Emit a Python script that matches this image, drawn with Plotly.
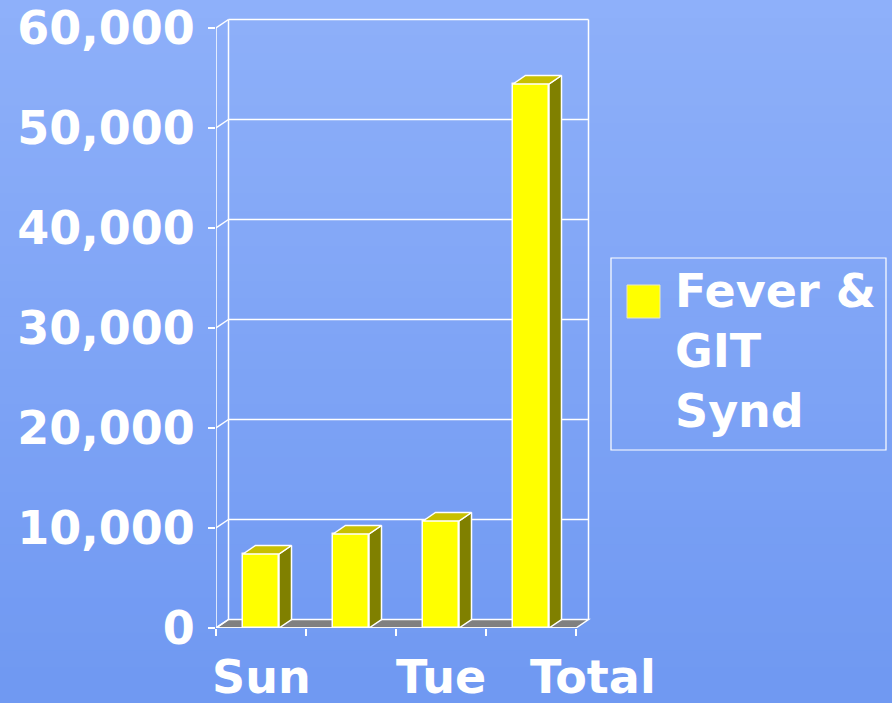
import plotly.graph_objects as go

# data
categories = ["Sun", "Mon", "Tue", "Total"]
values = [7400, 9400, 10700, 54400]
series_name = "Fever &<br>GIT<br>Synd"
shown_labels = ["Sun", "Tue", "Total"]
y_ticks = [0, 10000, 20000, 30000, 40000, 50000, 60000]

W, H = 892, 703
L, R, T, B = 216, 300, 18, 75
pw = W - L - R
ph = H - T - B
cat_px = 90.0
x_lo = -0.5
x_hi = x_lo + pw / cat_px
y_hi = 61000
dx = 12.5 / cat_px           # depth of the 3d box, in axis units
dy = 8.5 * y_hi / ph
bw = 0.4
n = len(categories)
xs = list(range(n))

def px(p):
    return (p - L) / pw

def py(p):
    return (H - B - p) / ph

white = "white"
fnt = "DejaVu Sans"

fig = go.Figure()

fig.add_trace(go.Bar(x=xs, y=values, width=bw, name="Fever & GIT Synd",
                     marker=dict(color="#ffff00", line=dict(color=white, width=1.5)),
                     showlegend=False))

# side and top faces of each bar
for i, v in zip(xs, values):
    xr = i + bw / 2
    xl = i - bw / 2
    fig.add_trace(go.Scatter(x=[xr, xr + dx, xr + dx, xr, xr], y=[0, dy, v + dy, v, 0],
                             mode="lines", fill="toself", fillcolor="#808000",
                             line=dict(color=white, width=1.5), showlegend=False,
                             hoverinfo="skip"))
    fig.add_trace(go.Scatter(x=[xl, xr, xr + dx, xl + dx, xl], y=[v, v, v + dy, v + dy, v],
                             mode="lines", fill="toself", fillcolor="#c8c000",
                             line=dict(color=white, width=1.5), showlegend=False,
                             hoverinfo="skip"))

shapes = []

# background gradient bands
nb = 40
top_c = (142, 176, 250)
bot_c = (112, 153, 242)
for k in range(nb):
    f = k / (nb - 1)
    c = tuple(int(top_c[j] + (bot_c[j] - top_c[j]) * f) for j in range(3))
    y0 = H * k / nb if k > 0 else -30
    y1 = H * (k + 1) / nb + 1 if k < nb - 1 else H + 30
    shapes.append(dict(type="rect", xref="paper", yref="paper",
                       x0=px(-30), x1=px(W + 30), y0=py(y0), y1=py(y1),
                       fillcolor="rgb(%d,%d,%d)" % c, line=dict(width=0), layer="below"))

x_end = x_lo + n
# floor
shapes.append(dict(type="path", layer="below",
                   path="M %f,0 L %f,0 L %f,%f L %f,%f Z" % (x_lo, x_end, x_end + dx, dy, x_lo + dx, dy),
                   fillcolor="#808080", line=dict(color=white, width=1.5)))
# back wall grid and left wall diagonals
for t in y_ticks:
    if t > 0:
        shapes.append(dict(type="line", x0=x_lo + dx, x1=x_end + dx, y0=t + dy, y1=t + dy,
                           line=dict(color=white, width=1.5), layer="below"))
    shapes.append(dict(type="line", x0=x_lo, x1=x_lo + dx, y0=t, y1=t + dy,
                       line=dict(color=white, width=1.5), layer="below"))
shapes.append(dict(type="line", x0=x_lo + dx, x1=x_lo + dx, y0=dy, y1=y_ticks[-1] + dy,
                   line=dict(color=white, width=1.5), layer="below"))
shapes.append(dict(type="line", x0=x_end + dx, x1=x_end + dx, y0=dy, y1=y_ticks[-1] + dy,
                   line=dict(color=white, width=1.5), layer="below"))
# front axis lines
shapes.append(dict(type="line", x0=x_lo, x1=x_lo, y0=0, y1=y_ticks[-1],
                   line=dict(color=white, width=1.5)))
shapes.append(dict(type="line", x0=x_lo, x1=x_end, y0=0, y1=0,
                   line=dict(color=white, width=1.5)))

# legend box
shapes.append(dict(type="rect", xref="paper", yref="paper",
                   x0=px(611), x1=px(886), y0=py(450), y1=py(258),
                   line=dict(color=white, width=1.2)))
shapes.append(dict(type="rect", xref="paper", yref="paper",
                   x0=px(627), x1=px(660), y0=py(318), y1=py(285),
                   fillcolor="#ffff00", line=dict(color="#e8e8c0", width=1)))

annotations = []
for lab in shown_labels:
    i = categories.index(lab)
    annotations.append(dict(x=i, y=0, xref="x", yref="y", text=lab, showarrow=False,
                            xanchor="center", yanchor="top", yshift=-20,
                            xshift=62 if lab == "Total" else 0,
                            font=dict(family=fnt, size=46, color=white, weight="bold")))
annotations.append(dict(x=px(673), y=py(262), xref="paper", yref="paper", text=series_name,
                        showarrow=False, xanchor="left", yanchor="top", align="left",
                        font=dict(family=fnt, size=46, color=white, weight="bold")))

fig.update_layout(
    width=W, height=H,
    margin=dict(l=L, r=R, t=T, b=B),
    paper_bgcolor="rgb(142,176,250)",
    plot_bgcolor="rgba(0,0,0,0)",
    shapes=shapes,
    annotations=annotations,
    showlegend=False,
    bargap=0,
    xaxis=dict(range=[x_lo, x_hi], showgrid=False, zeroline=False, showline=False,
               tickvals=[x_lo + k for k in range(n + 1)], ticks="outside", ticklen=7,
               tickcolor=white, tickwidth=1.5, showticklabels=False, fixedrange=True,
               automargin=False),
    yaxis=dict(range=[0, y_hi], showgrid=False, zeroline=False, showline=False,
               tickvals=y_ticks, tickformat=",d", ticks="outside", ticklen=7,
               tickcolor=white, tickwidth=1.5, ticklabelstandoff=4,
               tickfont=dict(family=fnt, size=46, color=white, weight="bold"),
               fixedrange=True, automargin=False),
)

fig.write_html("out.html", config={"displayModeBar": False},
               post_script="document.body.style.margin='0';")
